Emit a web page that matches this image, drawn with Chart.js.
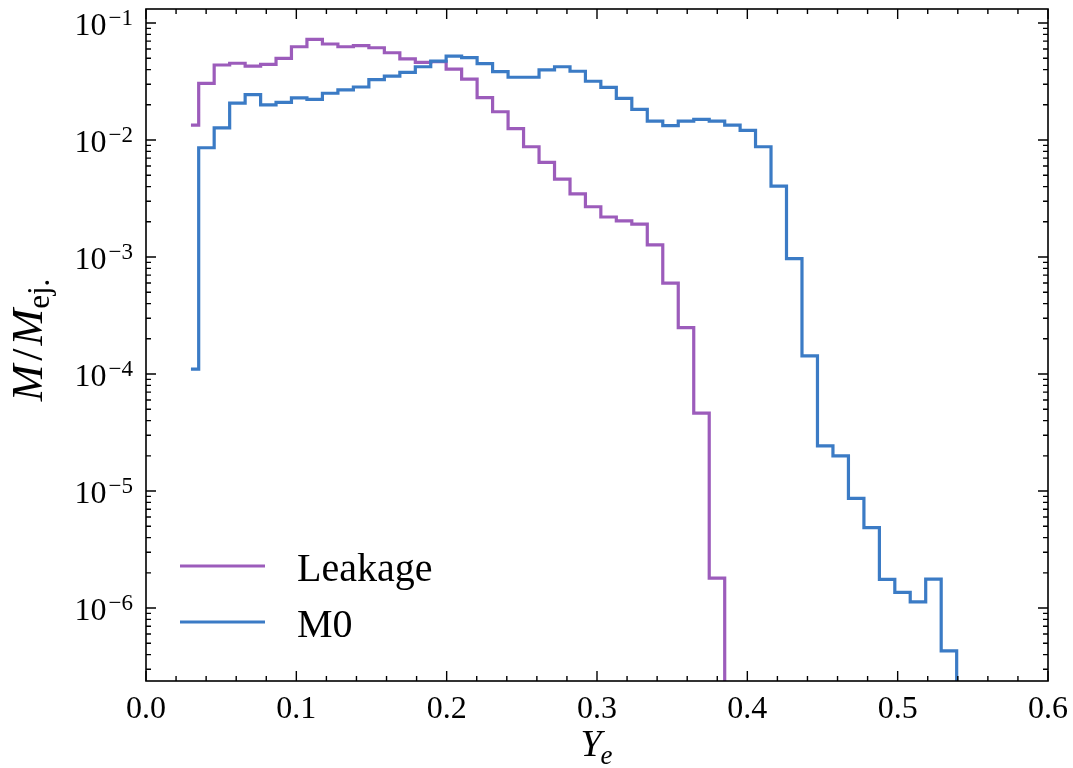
<!DOCTYPE html>
<html lang="en">
<head>
  <meta charset="UTF-8">
  <title>Ye distribution of ejecta</title>
  <script src="https://cdn.jsdelivr.net/npm/chart.js@4"></script>
  <style>
    html, body { margin: 0; padding: 0; background: #fff; }
  </style>
</head>
<body>
  <canvas id="yeHist" width="1073" height="768"></canvas>

  <script>
    // bin centres in Y_e (steps are drawn halfway between them)
    const yeBins = [
      0.0299, 0.0402, 0.0505, 0.0608, 0.0711, 0.0814, 0.0916, 0.1019, 0.1122, 0.1225,
      0.1328, 0.1431, 0.1534, 0.1637, 0.1740, 0.1843, 0.1945, 0.2048, 0.2151, 0.2254,
      0.2357, 0.2460, 0.2563, 0.2666, 0.2769, 0.2872, 0.2974, 0.3077, 0.3180, 0.3283,
      0.3386, 0.3489, 0.3592, 0.3695, 0.3798, 0.3901, 0.4003, 0.4106, 0.4209, 0.4312,
      0.4415, 0.4518, 0.4621, 0.4724, 0.4827, 0.4930, 0.5032, 0.5135, 0.5238, 0.5341,
      0.5444
    ];

    // M/M_ej per bin; 1e-9 marks an empty bin (drawn off the bottom of the axis)
    const leakage = [
      0.0134, 0.0305, 0.0438, 0.0453, 0.0429, 0.0444, 0.0499, 0.0627, 0.0726, 0.0662,
      0.0627, 0.0640, 0.0615, 0.0557, 0.0493, 0.0461, 0.0467, 0.0404, 0.0332, 0.0230,
      0.01745, 0.0125, 0.00876, 0.00645, 0.00464, 0.00346, 0.00269, 0.00220, 0.00204, 0.00191,
      0.00127, 5.99e-4, 2.49e-4, 4.64e-5, 1.80e-6, 1e-9
    ];

    const m0 = [
      1.10e-4, 0.00859, 0.0127, 0.0207, 0.0244, 0.0200, 0.0210, 0.0229, 0.0223, 0.0251,
      0.0268, 0.0284, 0.0328, 0.0352, 0.0379, 0.0423, 0.0473, 0.0522, 0.0507, 0.0449,
      0.0384, 0.0344, 0.0344, 0.0397, 0.0423, 0.0387, 0.0318, 0.0282, 0.0227, 0.0183,
      0.0145, 0.0133, 0.0145, 0.0150, 0.0145, 0.0134, 0.0121, 0.00876, 0.00404, 9.71e-4,
      1.43e-4, 2.43e-5, 2.00e-5, 8.66e-6, 4.86e-6, 1.76e-6, 1.36e-6, 1.13e-6, 1.77e-6, 4.31e-7,
      1e-9
    ];

    const seriesNames = ['Leakage', 'M0'];
    const xTicks = [0.0, 0.1, 0.2, 0.3, 0.4, 0.5, 0.6];
    const yDecades = [-1, -2, -3, -4, -5, -6];

    const colors = ['#9c5cbb', '#3b7bc5'];
    const serif = '"Liberation Serif", "DejaVu Serif", serif';

    function pairs(values) {
      return values.map((v, i) => ({ x: yeBins[i], y: v }));
    }

    // matplotlib-like frame: inward ticks on all sides, 10^n labels, math labels, legend
    const axesDecor = {
      id: 'axesDecor',
      afterDraw(chart) {
        const { ctx, chartArea: a, scales: { x, y } } = chart;
        ctx.save();
        ctx.strokeStyle = '#000';
        ctx.fillStyle = '#000';

        // ticks
        ctx.lineWidth = 1.4;
        ctx.beginPath();
        for (let i = 0; i <= 30; i++) {
          const px = x.getPixelForValue(i * 0.02);
          const len = i % 5 === 0 ? 10 : 5;
          ctx.moveTo(px, a.bottom); ctx.lineTo(px, a.bottom - len);
          ctx.moveTo(px, a.top); ctx.lineTo(px, a.top + len);
        }
        for (let e = -7; e <= 0; e++) {
          for (let m = 1; m <= 9; m++) {
            const v = m * Math.pow(10, e);
            if (v < y.min || v > y.max) continue;
            const py = y.getPixelForValue(v);
            const len = m === 1 ? 10 : 5;
            ctx.moveTo(a.left, py); ctx.lineTo(a.left + len, py);
            ctx.moveTo(a.right, py); ctx.lineTo(a.right - len, py);
          }
        }
        ctx.stroke();

        // frame
        ctx.lineWidth = 1.6;
        ctx.strokeRect(a.left, a.top, a.right - a.left, a.bottom - a.top);

        // x tick labels
        ctx.font = '32px ' + serif;
        ctx.textAlign = 'center';
        ctx.textBaseline = 'alphabetic';
        xTicks.forEach(v => {
          ctx.fillText(v.toFixed(1), x.getPixelForValue(v), a.bottom + 37);
        });

        // y tick labels 10^n
        ctx.textAlign = 'left';
        yDecades.forEach(e => {
          const py = y.getPixelForValue(Math.pow(10, e));
          const base = '10';
          const sup = '\u2212' + Math.abs(e);
          ctx.font = '32px ' + serif;
          const wb = ctx.measureText(base).width;
          ctx.font = '23px ' + serif;
          const ws = ctx.measureText(sup).width;
          const x0 = 133 - wb - ws - 2;
          ctx.font = '32px ' + serif;
          ctx.fillText(base, x0, py + 12);
          ctx.font = '23px ' + serif;
          ctx.fillText(sup, x0 + wb + 2, py + 2);
        });

        // x axis title: Y_e
        const cx = (a.left + a.right) / 2;
        ctx.font = 'italic 38px ' + serif;
        const wY = ctx.measureText('Y').width;
        ctx.font = 'italic 27px ' + serif;
        const we = ctx.measureText('e').width;
        const sx = cx - (wY + we) / 2;
        ctx.font = 'italic 38px ' + serif;
        ctx.fillText('Y', sx, a.bottom + 75);
        ctx.font = 'italic 27px ' + serif;
        ctx.fillText('e', sx + wY - 1, a.bottom + 83);

        // y axis title: M/M_ej.
        ctx.save();
        ctx.translate(42, (a.top + a.bottom) / 2 - 5);
        ctx.rotate(-Math.PI / 2);
        const parts = [
          { t: 'M', f: 'italic 44px ', dy: 0, gap: 4 },
          { t: '/', f: '44px ', dy: 0, gap: 3 },
          { t: 'M', f: 'italic 44px ', dy: 0, gap: 0 },
          { t: 'ej.', f: '31px ', dy: 7, gap: 0 }
        ];
        let total = 0;
        parts.forEach(p => { ctx.font = p.f + serif; p.w = ctx.measureText(p.t).width; total += p.w + p.gap; });
        let tx = -total / 2;
        parts.forEach(p => {
          ctx.font = p.f + serif;
          ctx.fillText(p.t, tx, p.dy);
          tx += p.w + p.gap;
        });
        ctx.restore();

        // legend
        const rows = [566, 622];
        seriesNames.forEach((name, i) => {
          ctx.strokeStyle = colors[i];
          ctx.lineWidth = 3.2;
          ctx.beginPath();
          ctx.moveTo(180, rows[i]); ctx.lineTo(265, rows[i]);
          ctx.stroke();
          ctx.font = '40px ' + serif;
          ctx.fillText(name, 297, rows[i] + 15);
        });

        ctx.restore();
      }
    };

    new Chart(document.getElementById('yeHist'), {
      type: 'line',
      data: {
        datasets: [
          {
            label: seriesNames[0],
            data: pairs(leakage),
            borderColor: colors[0],
            borderWidth: 3.2,
            stepped: 'middle',
            pointRadius: 0,
            fill: false,
            borderJoinStyle: 'miter',
            clip: 0,
            order: 1
          },
          {
            label: seriesNames[1],
            data: pairs(m0),
            borderColor: colors[1],
            borderWidth: 3.2,
            stepped: 'middle',
            pointRadius: 0,
            fill: false,
            borderJoinStyle: 'miter',
            clip: 0,
            order: 0
          }
        ]
      },
      options: {
        responsive: false,
        animation: false,
        layout: { padding: { top: 9, right: 25, left: 0, bottom: 0 } },
        plugins: {
          legend: { display: false },
          tooltip: { enabled: false }
        },
        scales: {
          x: {
            type: 'linear',
            min: 0,
            max: 0.6,
            grid: { display: false },
            border: { display: false },
            ticks: { display: false },
            afterFit(scale) { scale.height = 87; }
          },
          y: {
            type: 'logarithmic',
            min: 2.38e-7,
            max: 0.1318,
            grid: { display: false },
            border: { display: false },
            ticks: { display: false },
            afterFit(scale) { scale.width = 146; }
          }
        }
      },
      plugins: [axesDecor]
    });
  </script>
</body>
</html>
